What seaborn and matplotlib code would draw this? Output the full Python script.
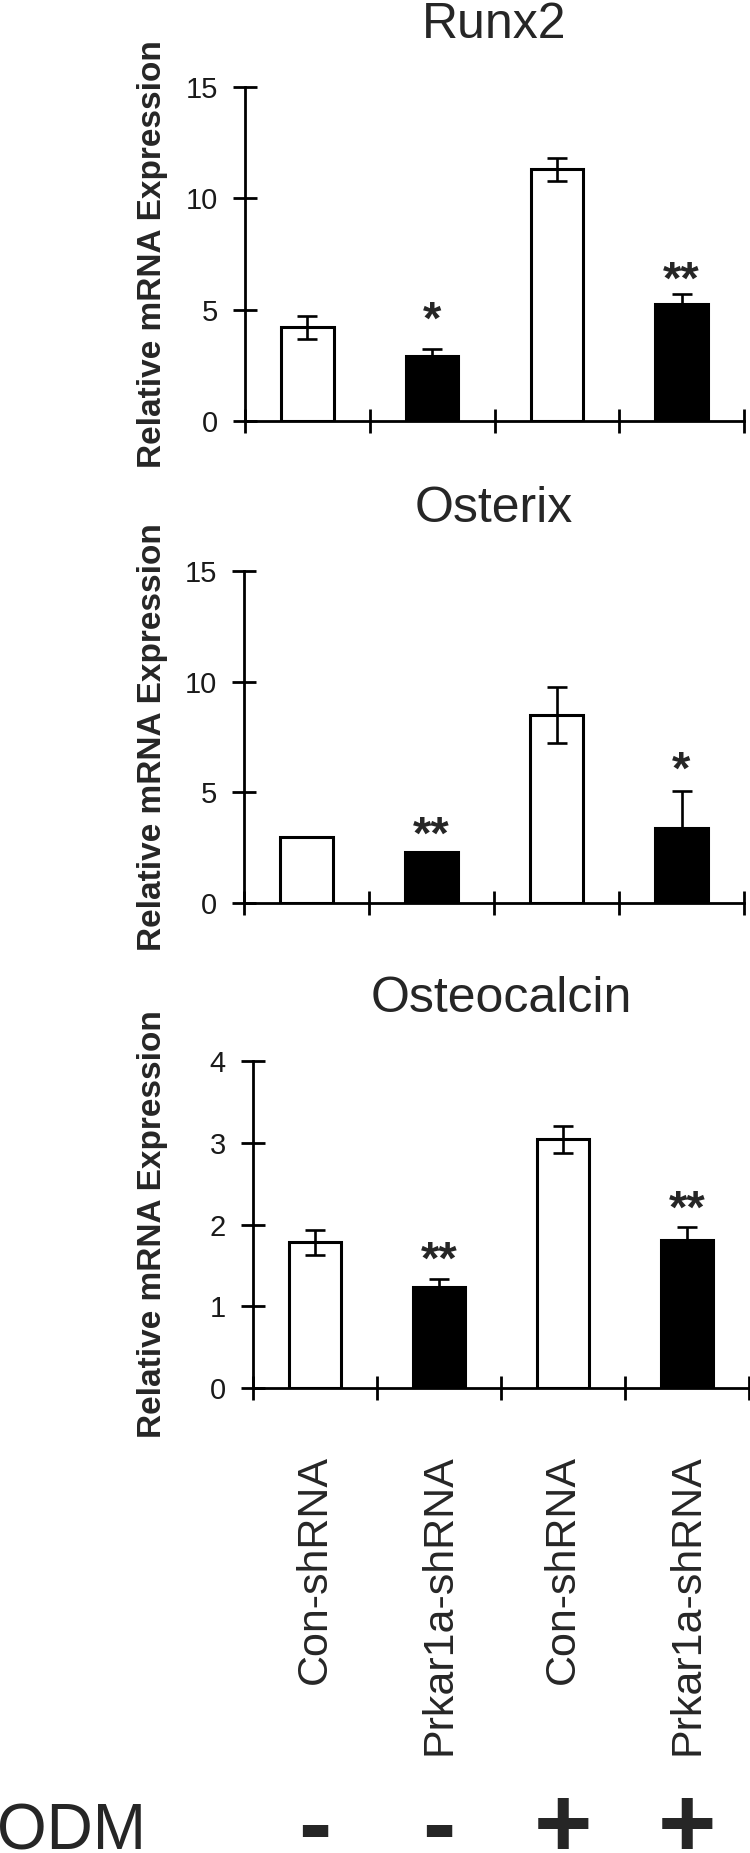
import matplotlib
matplotlib.use('Agg')
import matplotlib.pyplot as plt
import matplotlib.transforms as mtransforms
import numpy as np
import pandas as pd
import seaborn as sns

# groups, left to right
shrna = ['Con-shRNA', 'Prkar1a-shRNA', 'Con-shRNA', 'Prkar1a-shRNA']
odm = ['-', '-', '+', '+']
bar_colors = ['white', 'black', 'white', 'black']

genes = ['Runx2', 'Osterix', 'Osteocalcin']

# values (mean, SD)
runx2_mean = [4.2, 2.9, 11.3, 5.25]
runx2_sd = [0.5, 0.35, 0.5, 0.45]
runx2_sig = ['', '*', '', '**']
runx2_sig_y = [0, 5.1, 0, 6.9]

osterix_mean = [3.0, 2.3, 8.5, 3.4]
osterix_sd = [0, 0, 1.25, 1.65]
osterix_sig = ['', '**', '', '*']
osterix_sig_y = [0, 3.6, 0, 6.55]

osteocalcin_mean = [1.78, 1.24, 3.04, 1.81]
osteocalcin_sd = [0.15, 0.09, 0.16, 0.16]
osteocalcin_sig = ['', '**', '', '**']
osteocalcin_sig_y = [0, 1.71, 0, 2.34]

y_max = [15, 15, 4]
y_step = [5, 5, 1]

sns.set_theme(style='white')
plt.rcParams['font.family'] = ['Liberation Sans', 'DejaVu Sans']

W, H = 750, 1853
fig = plt.figure(figsize=(W / 100, H / 100), dpi=100)

# axes boxes in pixels: left, top, right, bottom
boxes = [(245, 87, 744, 421), (244, 571, 744, 903), (253, 1061, 749, 1388)]

panels = [
    (runx2_mean, runx2_sd, runx2_sig, runx2_sig_y),
    (osterix_mean, osterix_sd, osterix_sig, osterix_sig_y),
    (osteocalcin_mean, osteocalcin_sd, osteocalcin_sig, osteocalcin_sig_y),
]

keys = [f'{s} ODM{o}' for s, o in zip(shrna, odm)]
pal = dict(zip(keys, bar_colors))

axes = []
for i, (gene, (mean, sd, sig, sig_y), box) in enumerate(zip(genes, panels, boxes)):
    l, t, r, b = box
    ax = fig.add_axes([l / W, 1 - b / H, (r - l) / W, (b - t) / H])
    axes.append(ax)
    df = pd.DataFrame({'group': keys, 'value': mean})
    sns.barplot(data=df, x='group', y='value', hue='group', order=keys,
                palette=pal, saturation=1, width=0.42, edgecolor='black',
                linewidth=2.2, errorbar=None, legend=False, ax=ax)

    # error bars (SD), only where there is one
    xs = np.arange(len(keys))
    sd_arr = np.array(sd)
    has = sd_arr > 0
    ax.errorbar(xs[has], np.array(mean)[has], yerr=sd_arr[has], fmt='none',
                ecolor='black', elinewidth=1.9, capsize=7, capthick=1.9, zorder=3)

    for j, (s, y) in enumerate(zip(sig, sig_y)):
        if s:
            ax.annotate(s, (j, y), xytext=(0, -10), textcoords='offset points',
                        ha='center', va='center', fontsize=34, fontweight='bold')

    ax.set_xlim(-0.5, len(keys) - 0.5)
    ax.set_ylim(0, y_max[i])
    ax.set_yticks(np.arange(0, y_max[i] + 1, y_step[i]))
    ax.set_xticks(np.arange(-0.5, len(keys), 1), minor=True)
    ax.set_xticks(xs)

    ax.tick_params(axis='y', which='major', direction='inout', length=17,
                   width=2, left=True, labelsize=21, pad=11, color='black',
                   labelcolor='#1a1a1a')
    ax.tick_params(axis='x', which='minor', direction='inout', length=17,
                   width=2, bottom=True, color='black')
    ax.tick_params(axis='x', which='major', length=0, bottom=False)

    for side in ['top', 'right']:
        ax.spines[side].set_visible(False)
    for side in ['left', 'bottom']:
        ax.spines[side].set_linewidth(2)
        ax.spines[side].set_color('black')

    ax.set_title(gene, fontsize=36, pad=35)
    ax.set_xlabel('')
    ax.set_ylabel('Relative mRNA Expression', fontsize=24, fontweight='bold')
    ax.yaxis.set_label_coords((168 - l) / (r - l), 0.5)

    if i == len(genes) - 1:
        ax.set_xticklabels(shrna, rotation=90, fontsize=31)
        ax.tick_params(axis='x', which='major', pad=48)
    else:
        ax.tick_params(axis='x', which='major', labelbottom=False)

# ODM row under the group labels
ax3 = axes[-1]
fig.text(-0.004, 1 - 1850 / H, 'ODM', fontsize=46, ha='left', va='baseline')
trans = mtransforms.blended_transform_factory(ax3.transData, fig.transFigure)
for j, s in enumerate(odm):
    ax3.text(j, 1 - 1857 / H, s, transform=trans, ha='center', va='baseline',
             fontsize=72, fontweight='bold', clip_on=False)

fig.savefig('out.png', dpi=100)
